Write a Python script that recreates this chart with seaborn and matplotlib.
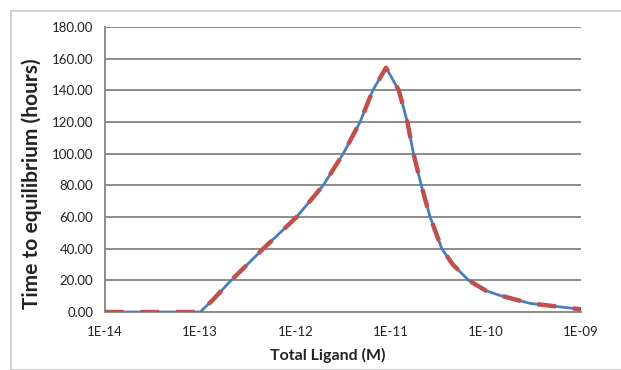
import numpy as np
import pandas as pd
import matplotlib
matplotlib.use("Agg")
import matplotlib.pyplot as plt
import matplotlib.patches as patches
from matplotlib.ticker import FixedLocator, FuncFormatter, NullLocator
import seaborn as sns

# Data
ligand_M = [1e-14, 1e-13, 1.35e-13, 2e-13, 4.6e-13, 1.03e-12, 1.96e-12, 3.18e-12,
            4.78e-12, 6.5e-12, 8.95e-12, 1.22e-11, 1.5e-11, 1.74e-11, 2.1e-11,
            2.6e-11, 3.45e-11, 4.5e-11, 6.6e-11, 1e-10, 1.4e-10, 2.9e-10,
            6.5e-10, 1e-9]
hours_numeric = [0.0, 0.0, 7.5, 18.5, 40.0, 60.0, 80.0, 100.0,
                 120.0, 140.0, 154.3, 140.0, 120.0, 100.0, 80.0,
                 60.0, 40.0, 30.0, 20.0, 13.5, 10.5, 5.5,
                 3.0, 1.7]
hours_analytic = list(hours_numeric)

x_ticks = [1e-14, 1e-13, 1e-12, 1e-11, 1e-10, 1e-9]
x_tick_labels = ["1E-14", "1E-13", "1E-12", "1E-11", "1E-10", "1E-09"]
y_ticks = [0, 20, 40, 60, 80, 100, 120, 140, 160, 180]

df = pd.DataFrame({"ligand": ligand_M, "numeric": hours_numeric,
                   "analytic": hours_analytic})

sns.set_style("white")
plt.rcParams["font.family"] = ["Lato", "DejaVu Sans"]

fig = plt.figure(figsize=(6.21, 3.70), dpi=100)
ax = fig.add_axes([105 / 621, 1 - 312 / 370, 476 / 621, 285 / 370])

# outer chart frame like the spreadsheet chart area
fig.patches.append(patches.Rectangle((11 / 621, 0), 1, 1 - 11 / 370,
                                     transform=fig.transFigure, fill=False,
                                     edgecolor="#c8c8c8", linewidth=1.2))

sns.lineplot(data=df, x="ligand", y="numeric", ax=ax, color="#4a7ebb",
             linewidth=2.0, zorder=3)
sns.lineplot(data=df, x="ligand", y="analytic", ax=ax, color="#c0504d",
             linewidth=3.2, linestyle=(0, (4.2, 3.8)), zorder=4,
             solid_capstyle="butt", dash_capstyle="butt")

ax.set_xscale("log")
ax.set_xlim(1e-14, 1e-9)
ax.set_ylim(0, 180)
ax.xaxis.set_major_locator(FixedLocator(x_ticks))
ax.xaxis.set_minor_locator(NullLocator())
ax.set_xticklabels(x_tick_labels)
ax.set_yticks(y_ticks)
ax.yaxis.set_major_formatter(FuncFormatter(lambda v, p: f"{v:.2f}"))

ax.grid(axis="y", color="#8c8c8c", linewidth=1.4)
ax.set_axisbelow(True)
for side in ["top", "right"]:
    ax.spines[side].set_visible(False)
for side in ["left", "bottom"]:
    ax.spines[side].set_color("#8c8c8c")
    ax.spines[side].set_linewidth(1.4)

ax.tick_params(axis="both", which="major", direction="out", length=5,
               width=1.2, color="#8c8c8c", labelsize=9.5, labelcolor="#222222")
ax.tick_params(axis="x", pad=5)

ax.set_xlabel("Total Ligand (M)", fontsize=11.5, fontweight="bold",
              color="#222222")
ax.set_ylabel("Time to equilibrium (hours)", fontsize=15, fontweight="bold",
              color="#222222")
ax.xaxis.set_label_coords(0.468, -0.154)
ax.yaxis.set_label_coords(-0.155, 0.45)
ax.xaxis.label.set_va("center")
ax.yaxis.label.set_va("center")

fig.savefig("out.png", dpi=100)
